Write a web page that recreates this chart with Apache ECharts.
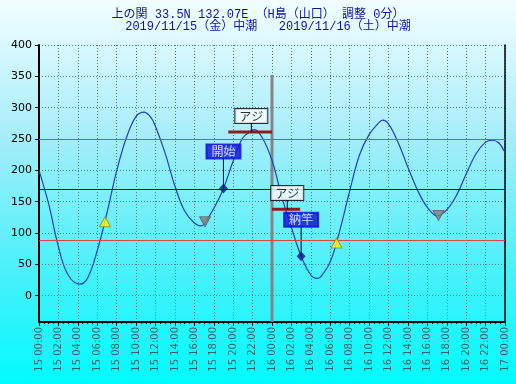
<!DOCTYPE html>
<html><head><meta charset="utf-8">
<script src="https://cdn.jsdelivr.net/npm/echarts@6/dist/echarts.min.js"></script>
<style>html,body{margin:0;padding:0;}#c{width:516px;height:384px;}</style>
</head><body><div id="c"></div>
<script>
// ---- data ----
const titleLine1 = '上の関 33.5N 132.07E （H島（山口） 調整 0分）';
const titleLine2 = '2019/11/15（金）中潮   2019/11/16（土）中潮';
const yTicks = [0, 50, 100, 150, 200, 250, 300, 350, 400];
// tide curve: hours from 15 00:00, level (cm)
const tideHours  = [0, 1, 2, 3, 4.2, 5, 6, 7, 8, 9, 10, 10.8, 11.5, 12, 13, 14, 15, 16, 16.7, 17, 18, 19, 20, 21, 22, 22.2, 23, 24, 25, 26, 27, 28, 28.6, 29, 30, 31, 32, 33, 34, 35, 35.4, 36, 37, 38, 39, 40, 41, 42, 43, 44, 45, 46, 46.7, 47.35, 47.9];
const tideLevels = [200, 146, 78, 33, 18.5, 28, 72, 132, 199, 252, 286, 293, 285, 270, 227, 175, 135, 116, 111.5, 114, 139, 171, 215, 252, 264, 265, 252, 216, 158, 109, 63, 33, 27.5, 30, 54, 105, 167, 224, 257, 276, 280, 274, 244, 205, 168, 141, 127.5, 137, 160, 194, 226, 245, 248, 244, 231];
// reference lines
const redLevels = [250, 88];
const blueLevel = 170;
// markers
const riseMarks = [[6.8, 118], [30.65, 84]];      // yellow triangles
const fallMarks = [[17.1, 118], [41.15, 128]];    // gray inverted triangles
const eventMarks = [[19.0, 171], [27.0, 63]];     // diamonds
const eventLabels = ['開始', '納竿'];
const eventLabelLevels = [230, 121];
const eventLabelBottoms = [219, 110];
// catch bars
const catchStart = [19.5, 24.0];
const catchEnd = [24.0, 26.9];
const catchLevels = [261, 138];
const catchLabelHours = [21.87, 25.57];
const catchLabelLevels = [286.6, 163.8];
const catchLabelBottoms = [276, 153.4];
const catchLabels = ['アジ', 'アジ'];
const dayLineHour = 24;
const dayLineTop = 352;

const Y_MIN = -42, Y_MAX = 400;
function fmtX(v){const d = 15 + Math.floor(v/24); const h = v % 24; return d + ' ' + (h<10?'0':'') + h + ':00';}

const chart = echarts.init(document.getElementById('c'), null, {renderer:'canvas'});
const series = [];
series.push({type:'line', xAxisIndex:0, yAxisIndex:0, data: tideHours.map((h,i)=>[h, tideLevels[i]]),
  smooth:0.4, symbol:'none', lineStyle:{color:'#2040c0', width:1.2}, z:3,
  markLine:{silent:true, symbol:'none', label:{show:false},
    data:[
      {yAxis: redLevels[0], lineStyle:{color:'#d04848', width:1, type:'solid'}},
      {yAxis: redLevels[1], lineStyle:{color:'#d04848', width:1, type:'solid'}},
      {yAxis: blueLevel, lineStyle:{color:'#10107a', width:1, type:'solid'}}
    ]}
});
// day separator
series.push({type:'line', xAxisIndex:0, yAxisIndex:0, data:[[dayLineHour, dayLineTop],[dayLineHour, Y_MIN]], symbol:'none', lineStyle:{color:'#858585', width:3}, z:2});
// catch bars + connectors
for (let i=0;i<catchLevels.length;i++){
  series.push({type:'line', xAxisIndex:0, yAxisIndex:0, data:[[catchStart[i], catchLevels[i]],[catchEnd[i], catchLevels[i]]], symbol:'none', lineStyle:{color:'#8e1c1c', width:3}, z:4});
  series.push({type:'line', xAxisIndex:0, yAxisIndex:0, data:[[catchLabelHours[i], catchLevels[i]],[catchLabelHours[i], catchLabelBottoms[i]]], symbol:'none', lineStyle:{color:'#000', width:1}, z:4});
}
for (let i=0;i<eventMarks.length;i++){
  series.push({type:'line', xAxisIndex:0, yAxisIndex:0, data:[[eventMarks[i][0], eventMarks[i][1]],[eventMarks[i][0], eventLabelBottoms[i]]], symbol:'none', lineStyle:{color:'#000', width:1}, z:4});
}
series.push({type:'scatter', xAxisIndex:0, yAxisIndex:0, data: riseMarks, symbol:'triangle', symbolSize:[11,10], itemStyle:{color:'#ffff00', borderColor:'#8a8a20', borderWidth:1}, z:6});
series.push({type:'scatter', xAxisIndex:0, yAxisIndex:0, data: fallMarks, symbol:'triangle', symbolRotate:180, symbolSize:[11,10], itemStyle:{color:'#808080', borderColor:'#606060', borderWidth:1}, z:6});
series.push({type:'scatter', xAxisIndex:0, yAxisIndex:0, data: eventMarks, symbol:'diamond', symbolSize:[9,10], itemStyle:{color:'#16168a'}, z:6});
// label boxes
const labelData = [];
for (let i=0;i<catchLabels.length;i++){
  labelData.push({value:[catchLabelHours[i], catchLabelLevels[i]], name:catchLabels[i],
    label:{color:'#000', backgroundColor:'#ffffff', borderColor:'#000', borderWidth:1, padding:[1,4,0,4]}});
}
for (let i=0;i<eventLabels.length;i++){
  labelData.push({value:[eventMarks[i][0], eventLabelLevels[i]], name:eventLabels[i],
    label:{color:'#ffffff', backgroundColor:'#0c10d8', borderColor:'#0c10d8', borderWidth:1, padding:[1,5,0,5]}});
}
series.push({type:'scatter', xAxisIndex:0, yAxisIndex:0, data: labelData, symbolSize:0, z:8,
  label:{show:true, position:'inside', formatter:p=>p.name, fontSize:12, fontFamily:'Noto Sans CJK JP', lineHeight:13}});

const titleFont = '12px "Liberation Mono", "Noto Sans CJK JP", monospace';
const option = {
  animation:false,
  backgroundColor:{type:'linear', x:0, y:0, x2:0, y2:1, colorStops:[
    {offset:0, color:'#f2feff'}, {offset:0.35, color:'#a6eefa'}, {offset:0.75, color:'#3ef2fa'}, {offset:1, color:'#00fbff'}]},
  graphic:[
    {type:'text', x:258, y:9, style:{text:titleLine1, textAlign:'center', fill:'#12129e', font:titleFont}},
    {type:'text', x:268, y:21, style:{text:titleLine2, textAlign:'center', fill:'#12129e', font:titleFont}}
  ],
  grid:[
    {left:39, right:11, top:45, bottom:62},
    {left:39, right:11, top:45, bottom:384-45-250.7}
  ],
  xAxis:[
    {gridIndex:0, type:'value', min:0, max:48, interval:2,
      axisLine:{show:true, onZero:false, lineStyle:{color:'#000', width:2}},
      axisTick:{show:true, length:4, lineStyle:{color:'#000'}},
      minorTick:{show:true, splitNumber:4, length:2, lineStyle:{color:'#000'}},
      axisLabel:{rotate:90, formatter:fmtX, fontSize:10, fontFamily:'DejaVu Sans', color:'#3a5f5f', margin:5},
      splitLine:{show:true, lineStyle:{color:'#4e8088', type:[1,2], width:1}}},
    {gridIndex:1, type:'value', min:0, max:48, show:false}
  ],
  yAxis:[
    {gridIndex:0, type:'value', min:Y_MIN, max:Y_MAX,
      axisLine:{show:true, onZero:false, lineStyle:{color:'#000', width:2}},
      axisTick:{show:false}, axisLabel:{show:false}, splitLine:{show:false}},
    {gridIndex:1, type:'value', min:yTicks[0], max:yTicks[yTicks.length-1], interval:50,
      axisLine:{show:false}, axisTick:{show:true, length:4, lineStyle:{color:'#000'}},
      axisLabel:{fontSize:11, fontFamily:'DejaVu Sans', color:'#000', margin:7},
      splitLine:{show:true, lineStyle:{color:'#4e8088', type:[1,2], width:1}}},
    {gridIndex:0, type:'value', position:'right', min:Y_MIN, max:Y_MAX,
      axisLine:{show:true, onZero:false, lineStyle:{color:'#000', width:1.5}},
      axisTick:{show:false}, axisLabel:{show:false}, splitLine:{show:false}}
  ],
  series: series
};
chart.setOption(option);
</script></body></html>
